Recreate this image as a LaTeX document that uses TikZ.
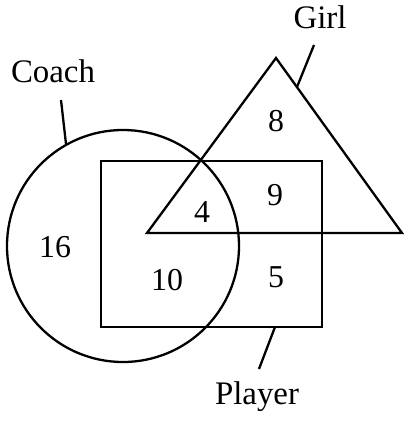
\documentclass[tikz,border=0pt]{standalone}
\usepackage{fontspec}
\setmainfont{Liberation Serif}
\usetikzlibrary{positioning}
\tikzset{
  setline/.style={line width=2.3bp, black},
  setlabel/.style={font=\fontsize{33}{38}\selectfont, inner sep=0pt},
  setnum/.style={font=\fontsize{32}{36}\selectfont, inner sep=0pt}
}

\begin{document}
\begin{tikzpicture}[x=1bp, y=-1bp]
    \useasboundingbox (0,0) rectangle (404,424);

    % Vong tron "Coach"
    \draw[setline] (123,246) circle (116);
    % Hinh chu nhat "Player"
    \draw[setline] (101,161) rectangle (322,327);
    % Tam giac "Girl"
    \draw[setline, line join=miter] (276,58) -- (402,233) -- (147,233) -- cycle;

    % Nhan ten cac tap hop
    \node[setlabel] (coach) at (53,71) {Coach};
    \node[setlabel] (girl) at (320,17) {Girl};
    \node[setlabel] (player) at (257,397) {Player};

    % Diem cham tren cac hinh va dau duong noi
    \coordinate (coachpt) at (66,144);
    \coordinate (coachend) at (61,100);
    \coordinate (girlpt) at (297,87);
    \coordinate (girlend) at (314,45);
    \coordinate (playerpt) at (275,327);
    \coordinate (playerend) at (259,369);

    % Duong noi nhan voi hinh
    \draw[setline] (coachend) -- (coachpt);
    \draw[setline] (girlend) -- (girlpt);
    \draw[setline] (playerend) -- (playerpt);

    % Cac so trong tung vung
    \node[setnum] (n8) at (276,121) {8};
    \node[setnum] (n9) at (275,195) {9};
    \node[setnum] (n4) at (202,212) {4};
    \node[setnum] (n16) at (55,247) {16};
    \node[setnum] (n10) at (167,280) {10};
    \node[setnum] (n5) at (276,277) {5};
\end{tikzpicture}
\end{document}
